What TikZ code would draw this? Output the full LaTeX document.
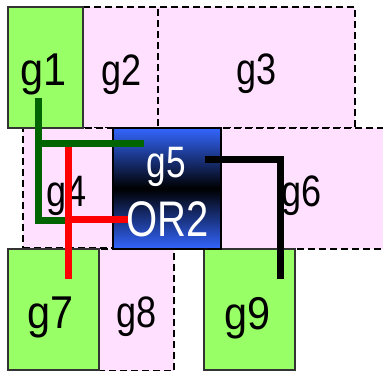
\documentclass[tikz,border=0pt]{standalone}
\usepackage{fontspec}
\setmainfont{Liberation Sans}
\newfontfamily\usedfont[FakeStretch=0.9]{Liberation Sans}
\newfontfamily\freefont[FakeStretch=0.82]{Liberation Sans}
\newfontfamily\gatefont[FakeStretch=0.8]{Liberation Sans}
\definecolor{cellpink}{RGB}{255,224,255}
\definecolor{cellgreen}{RGB}{153,255,102}
\definecolor{cellblue}{RGB}{51,102,255}
\definecolor{wiregreen}{RGB}{0,100,0}
\begin{document}
\begin{tikzpicture}[x=1bp,y=-1bp,
  cell/.style={rectangle, inner sep=0pt, outer sep=0pt, anchor=north west},
  freecell/.style={cell, fill=cellpink, draw=black, line width=2.1bp, dash pattern=on 7bp off 4bp},
  usedcell/.style={cell, fill=cellgreen, draw=black!80, line width=1.2bp},
  gatecell/.style={cell, draw=black, line width=1.6bp},
  lbl/.style={inner sep=0pt, anchor=base},
  biglbl/.style={lbl, font=\usedfont\fontsize{46bp}{52bp}\selectfont},
  smalllbl/.style={lbl, font=\freefont\fontsize{44bp}{50bp}\selectfont},
  wire/.style={line width=7bp, line cap=butt, line join=miter}]
\useasboundingbox (0,0) rectangle (383,371);
\begin{scope}
\clip (0,0) rectangle (383,371);
% free (pink, dashed) cells
\node[freecell, minimum width=75bp, minimum height=121bp] (g2) at (83,7) {};
\node[freecell, minimum width=197bp, minimum height=121bp] (g3) at (158,7) {};
\node[freecell, minimum width=90bp, minimum height=120bp] (g4) at (23,128) {};
\node[freecell, minimum width=170bp, minimum height=121bp] (g6) at (220,128) {};
\node[freecell, minimum width=76bp, minimum height=122bp] (g8) at (98,249) {};
% used (green) cells
\node[usedcell, minimum width=75bp, minimum height=121bp] (g1) at (8,7) {};
\node[usedcell, minimum width=91bp, minimum height=121bp] (g7) at (8,249) {};
\node[usedcell, minimum width=91bp, minimum height=121bp] (g9) at (204,249) {};
% the OR2 gate cell
\shade[top color=cellblue, bottom color=cellblue, middle color=black]
  (113,128) rectangle (221,249);
\node[gatecell, minimum width=108bp, minimum height=121bp] (g5) at (113,128) {};
\end{scope}
% labels
\node[biglbl] (t1) at (44,85) {g1};
\node[smalllbl] (t2) at (121.5,85.5) {g2};
\node[smalllbl] (t3) at (256.5,84) {g3};
\node[smalllbl] (t4) at (67,206) {g4};
\node[lbl, text=white, font=\gatefont\fontsize{44bp}{50bp}\selectfont] (t5) at (166.5,177) {g5};
\node[lbl, text=white, font=\gatefont\fontsize{50bp}{56bp}\selectfont] (t5b) at (167.5,236) {OR2};
\node[smalllbl] (t6) at (302,206) {g6};
\node[biglbl] (t7) at (51,328) {g7};
\node[smalllbl] (t8) at (137,327) {g8};
\node[biglbl] (t9) at (248,329) {g9};
% wire pins
\coordinate (p1) at (38,98);
\coordinate (p1b) at (38,220);
\coordinate (p1c) at (68,220);
\coordinate (p1t) at (38,143.5);
\coordinate (a5) at (144,143.5);
\coordinate (p7t) at (68,147);
\coordinate (p7) at (68,279);
\coordinate (p7j) at (68,219.5);
\coordinate (b5) at (128,219.5);
\coordinate (y5) at (205,159);
\coordinate (y5c) at (280.5,159);
\coordinate (p9) at (280.5,279);
% nets
\draw[wire, wiregreen] (p1) -- (p1b) -- (p1c);
\draw[wire, wiregreen] (p1t) -- (a5);
\draw[wire, red] (p7t) -- (p7);
\draw[wire, red] (p7j) -- (b5);
\draw[wire, black] (y5) -- (y5c) -- (p9);
\end{tikzpicture}
\end{document}
